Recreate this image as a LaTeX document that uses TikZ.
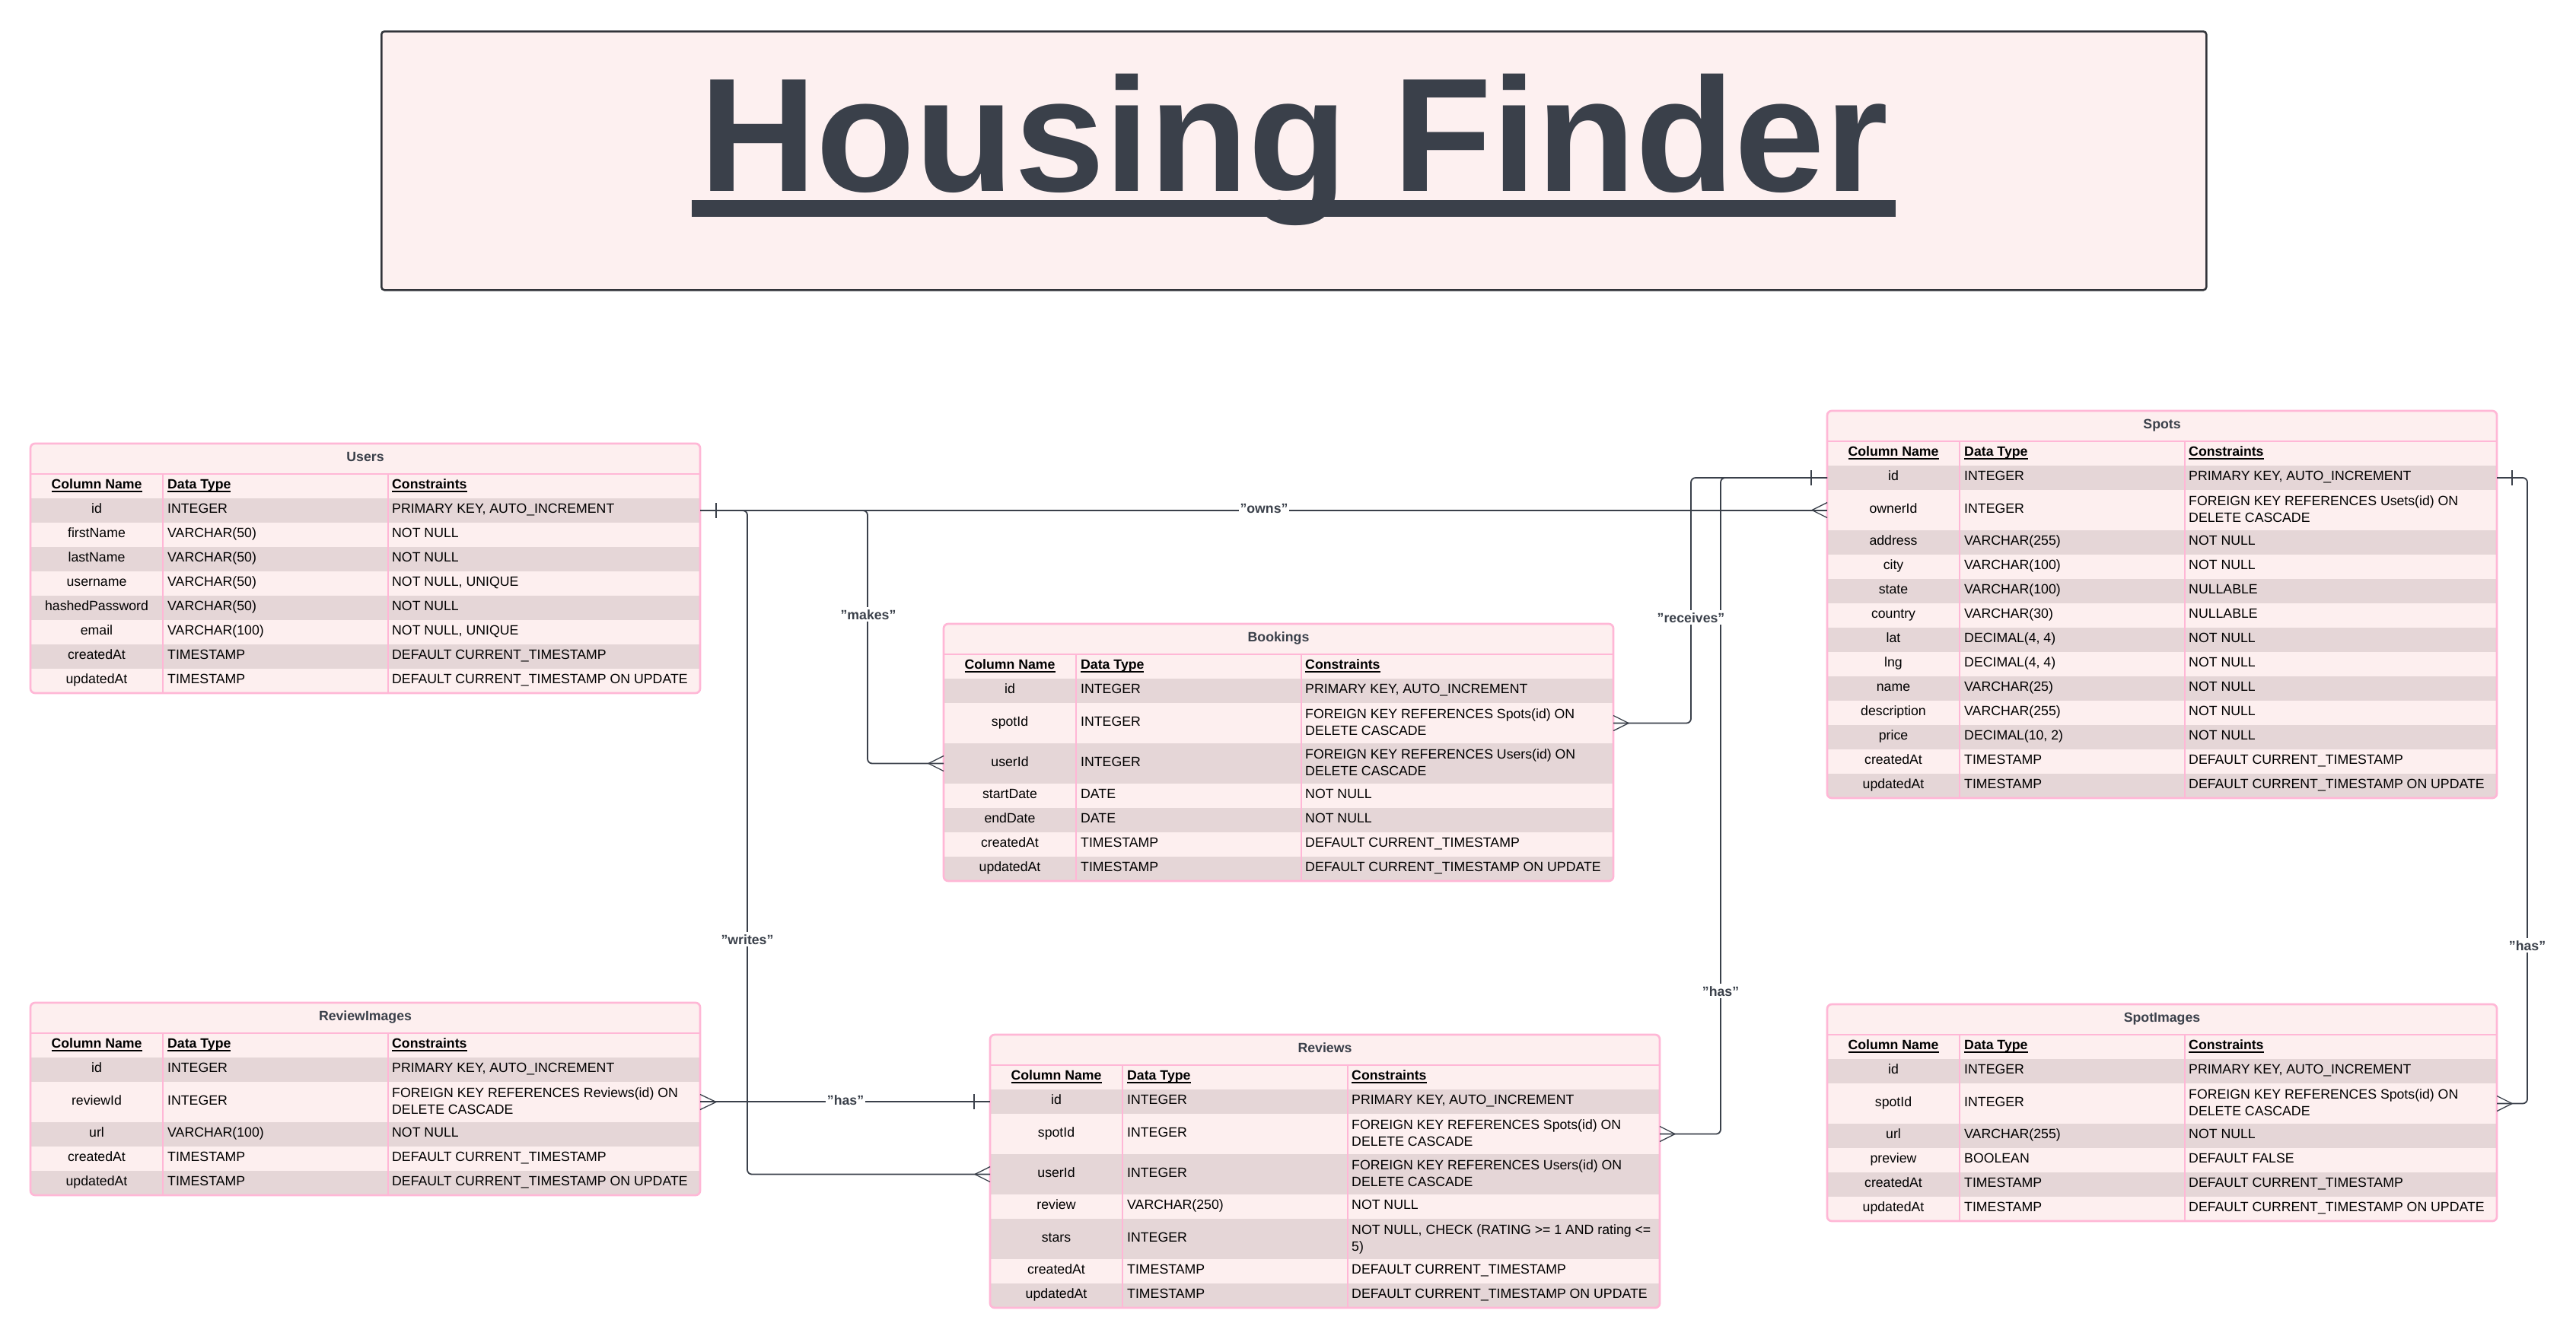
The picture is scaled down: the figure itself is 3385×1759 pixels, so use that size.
\documentclass[tikz,border=0pt]{standalone}
\usepackage{fontspec}
\setmainfont{Liberation Sans}
\usetikzlibrary{calc}
\definecolor{rowl}{RGB}{253,239,239}
\definecolor{rowd}{RGB}{229,214,215}
\definecolor{pinkb}{RGB}{255,183,214}
\definecolor{ink}{RGB}{58,64,74}
\definecolor{titlefill}{RGB}{253,240,240}
\definecolor{titleborder}{RGB}{50,52,58}
\newcommand\fs{\fontsize{17.7}{22}\selectfont}
\newcommand\hul[1]{\setbox0\hbox{#1}\rlap{\rule[-4pt]{\wd0}{1.7pt}}\box0}
\newcommand\TX{40}
\newcommand\ERhead[3]{%
  \node[rowbox,fill=rowl,minimum height=40pt] (#1-title) at (\TX,#2) {};
  \node[tbltitle,anchor=base] (#1-name) at ($(#1-title.center)+(0,3.7)$) {#3};
  \node[rowbox,fill=rowl,minimum height=32pt] (#1-hdr) at (\TX,#2+40) {};
  \node[hdrtext,anchor=base] (#1-h1) at ($(#1-hdr.west)+(87,3.7)$) {\hul{Column Name}};
  \node[hdrtext,anchor=base west] (#1-h2) at ($(#1-hdr.west)+(180,3.7)$) {\hul{Data Type}};
  \node[hdrtext,anchor=base west] (#1-h3) at ($(#1-hdr.west)+(475,3.7)$) {\hul{Constraints}};
}
\newcommand\ERrow[7]{%
  \node[rowbox,fill=#4,minimum height=#3pt] (#1) at (\TX,#2) {};
  \node[celltext,anchor=base] (#1-c1) at ($(#1.west)+(87,3.7)$) {#5};
  \node[celltext,anchor=base west] (#1-c2) at ($(#1.west)+(180,3.7)$) {#6};
  \node[celltext,anchor=base west] (#1-c3) at ($(#1.west)+(475,3.7)$) {#7};
}
\newcommand\ERrowii[8]{%
  \node[rowbox,fill=#4,minimum height=#3pt] (#1) at (\TX,#2) {};
  \node[celltext,anchor=base] (#1-c1) at ($(#1.west)+(87,4.2)$) {#5};
  \node[celltext,anchor=base west] (#1-c2) at ($(#1.west)+(180,4.2)$) {#6};
  \node[celltext,anchor=base west] (#1-c3) at ($(#1.west)+(475,-6)$) {#7};
  \node[celltext,anchor=base west] (#1-c3b) at ($(#1.west)+(475,15.5)$) {#8};
}
\newcommand\ERclose[2]{%
  \draw[divl] (\TX+174,#1+40) -- (\TX+174,#2);
  \draw[divl] (\TX+470,#1+40) -- (\TX+470,#2);
  \draw[sepl] (\TX,#1+40) -- (\TX+880,#1+40);
  \draw[tbord] (\TX,#1) rectangle (\TX+880,#2);
}
\newcommand\onebar[2]{\draw[mkl] ($(#1)+(#2,-10)$) -- ($(#1)+(#2,10)$);}
\newcommand\crowf[2]{\draw[prong] ($(#1)+(0,-10)$) -- ($(#1)+(#2,0)$) -- ($(#1)+(0,10)$);}
\begin{document}
\begin{tikzpicture}[x=1pt,y=-1pt,
  rowbox/.style={anchor=north west,minimum width=880pt,inner sep=0pt,outer sep=0pt,draw=none},
  celltext/.style={font=\fs,inner sep=0pt,text=black},
  hdrtext/.style={font=\fs\bfseries,inner sep=0pt,text=black},
  tbltitle/.style={font=\fs\bfseries,inner sep=0pt,text=ink},
  divl/.style={draw=pinkb,line width=1.4pt},
  sepl/.style={draw=pinkb,line width=2.7pt},
  tbord/.style={draw=pinkb,line width=2.7pt,rounded corners=6pt},
  conn/.style={draw=ink,line width=1.8pt,rounded corners=6pt},
  mkl/.style={draw=ink,line width=1.8pt},
  prong/.style={draw=ink,line width=1.3pt},
  lbl/.style={font=\fs\bfseries,text=ink,fill=white,inner xsep=1.5pt,inner ysep=3pt,anchor=base}]
\useasboundingbox (0,0) rectangle (3385,1759);
\fill[white] (0,0) rectangle (3385,1759);
% title
\node[draw=titleborder,line width=2.5pt,fill=titlefill,rounded corners=4pt,minimum width=2398pt,minimum height=340pt,anchor=north west,inner sep=0pt] (titlebox) at (500,40) {};
\node[anchor=base,inner sep=0pt,text=ink,font=\bfseries\fontsize{213}{240}\selectfont] (title) at (1700,251) {Housing Finder};
\fill[ink] (909,263) rectangle (2491,285);
% Users
\renewcommand\TX{40}
\begin{scope}
\clip[rounded corners=6pt] (\TX,583) rectangle (\TX+880,911);
\ERhead{users}{583}{Users}
\ERrow{users-id}{655}{32}{rowd}{id}{INTEGER}{PRIMARY KEY, AUTO\_INCREMENT}
\ERrow{users-firstName}{687}{32}{rowl}{firstName}{VARCHAR(50)}{NOT NULL}
\ERrow{users-lastName}{719}{32}{rowd}{lastName}{VARCHAR(50)}{NOT NULL}
\ERrow{users-username}{751}{32}{rowl}{username}{VARCHAR(50)}{NOT NULL, UNIQUE}
\ERrow{users-hashedPassword}{783}{32}{rowd}{hashedPassword}{VARCHAR(50)}{NOT NULL}
\ERrow{users-email}{815}{32}{rowl}{email}{VARCHAR(100)}{NOT NULL, UNIQUE}
\ERrow{users-createdAt}{847}{32}{rowd}{createdAt}{TIMESTAMP}{DEFAULT CURRENT\_TIMESTAMP}
\ERrow{users-updatedAt}{879}{32}{rowl}{updatedAt}{TIMESTAMP}{DEFAULT CURRENT\_TIMESTAMP ON UPDATE}
\end{scope}
\ERclose{583}{911}
% Spots
\renewcommand\TX{2401}
\begin{scope}
\clip[rounded corners=6pt] (\TX,540) rectangle (\TX+880,1049);
\ERhead{spots}{540}{Spots}
\ERrow{spots-id}{612}{32}{rowd}{id}{INTEGER}{PRIMARY KEY, AUTO\_INCREMENT}
\ERrowii{spots-ownerId}{644}{53}{rowl}{ownerId}{INTEGER}{FOREIGN KEY REFERENCES Usets(id) ON}{DELETE CASCADE}
\ERrow{spots-address}{697}{32}{rowd}{address}{VARCHAR(255)}{NOT NULL}
\ERrow{spots-city}{729}{32}{rowl}{city}{VARCHAR(100)}{NOT NULL}
\ERrow{spots-state}{761}{32}{rowd}{state}{VARCHAR(100)}{NULLABLE}
\ERrow{spots-country}{793}{32}{rowl}{country}{VARCHAR(30)}{NULLABLE}
\ERrow{spots-lat}{825}{32}{rowd}{lat}{DECIMAL(4, 4)}{NOT NULL}
\ERrow{spots-lng}{857}{32}{rowl}{lng}{DECIMAL(4, 4)}{NOT NULL}
\ERrow{spots-name}{889}{32}{rowd}{name}{VARCHAR(25)}{NOT NULL}
\ERrow{spots-description}{921}{32}{rowl}{description}{VARCHAR(255)}{NOT NULL}
\ERrow{spots-price}{953}{32}{rowd}{price}{DECIMAL(10, 2)}{NOT NULL}
\ERrow{spots-createdAt}{985}{32}{rowl}{createdAt}{TIMESTAMP}{DEFAULT CURRENT\_TIMESTAMP}
\ERrow{spots-updatedAt}{1017}{32}{rowd}{updatedAt}{TIMESTAMP}{DEFAULT CURRENT\_TIMESTAMP ON UPDATE}
\end{scope}
\ERclose{540}{1049}
% Bookings
\renewcommand\TX{1240}
\begin{scope}
\clip[rounded corners=6pt] (\TX,820) rectangle (\TX+880,1158);
\ERhead{bookings}{820}{Bookings}
\ERrow{bookings-id}{892}{32}{rowd}{id}{INTEGER}{PRIMARY KEY, AUTO\_INCREMENT}
\ERrowii{bookings-spotId}{924}{53}{rowl}{spotId}{INTEGER}{FOREIGN KEY REFERENCES Spots(id) ON}{DELETE CASCADE}
\ERrowii{bookings-userId}{977}{53}{rowd}{userId}{INTEGER}{FOREIGN KEY REFERENCES Users(id) ON}{DELETE CASCADE}
\ERrow{bookings-startDate}{1030}{32}{rowl}{startDate}{DATE}{NOT NULL}
\ERrow{bookings-endDate}{1062}{32}{rowd}{endDate}{DATE}{NOT NULL}
\ERrow{bookings-createdAt}{1094}{32}{rowl}{createdAt}{TIMESTAMP}{DEFAULT CURRENT\_TIMESTAMP}
\ERrow{bookings-updatedAt}{1126}{32}{rowd}{updatedAt}{TIMESTAMP}{DEFAULT CURRENT\_TIMESTAMP ON UPDATE}
\end{scope}
\ERclose{820}{1158}
% Reviews
\renewcommand\TX{1301}
\begin{scope}
\clip[rounded corners=6pt] (\TX,1360) rectangle (\TX+880,1719);
\ERhead{reviews}{1360}{Reviews}
\ERrow{reviews-id}{1432}{32}{rowd}{id}{INTEGER}{PRIMARY KEY, AUTO\_INCREMENT}
\ERrowii{reviews-spotId}{1464}{53}{rowl}{spotId}{INTEGER}{FOREIGN KEY REFERENCES Spots(id) ON}{DELETE CASCADE}
\ERrowii{reviews-userId}{1517}{53}{rowd}{userId}{INTEGER}{FOREIGN KEY REFERENCES Users(id) ON}{DELETE CASCADE}
\ERrow{reviews-review}{1570}{32}{rowl}{review}{VARCHAR(250)}{NOT NULL}
\ERrowii{reviews-stars}{1602}{53}{rowd}{stars}{INTEGER}{NOT NULL, CHECK (RATING >= 1 AND rating <=}{5)}
\ERrow{reviews-createdAt}{1655}{32}{rowl}{createdAt}{TIMESTAMP}{DEFAULT CURRENT\_TIMESTAMP}
\ERrow{reviews-updatedAt}{1687}{32}{rowd}{updatedAt}{TIMESTAMP}{DEFAULT CURRENT\_TIMESTAMP ON UPDATE}
\end{scope}
\ERclose{1360}{1719}
% ReviewImages
\renewcommand\TX{40}
\begin{scope}
\clip[rounded corners=6pt] (\TX,1318) rectangle (\TX+880,1571);
\ERhead{reviewimages}{1318}{ReviewImages}
\ERrow{reviewimages-id}{1390}{32}{rowd}{id}{INTEGER}{PRIMARY KEY, AUTO\_INCREMENT}
\ERrowii{reviewimages-reviewId}{1422}{53}{rowl}{reviewId}{INTEGER}{FOREIGN KEY REFERENCES Reviews(id) ON}{DELETE CASCADE}
\ERrow{reviewimages-url}{1475}{32}{rowd}{url}{VARCHAR(100)}{NOT NULL}
\ERrow{reviewimages-createdAt}{1507}{32}{rowl}{createdAt}{TIMESTAMP}{DEFAULT CURRENT\_TIMESTAMP}
\ERrow{reviewimages-updatedAt}{1539}{32}{rowd}{updatedAt}{TIMESTAMP}{DEFAULT CURRENT\_TIMESTAMP ON UPDATE}
\end{scope}
\ERclose{1318}{1571}
% SpotImages
\renewcommand\TX{2401}
\begin{scope}
\clip[rounded corners=6pt] (\TX,1320) rectangle (\TX+880,1605);
\ERhead{spotimages}{1320}{SpotImages}
\ERrow{spotimages-id}{1392}{32}{rowd}{id}{INTEGER}{PRIMARY KEY, AUTO\_INCREMENT}
\ERrowii{spotimages-spotId}{1424}{53}{rowl}{spotId}{INTEGER}{FOREIGN KEY REFERENCES Spots(id) ON}{DELETE CASCADE}
\ERrow{spotimages-url}{1477}{32}{rowd}{url}{VARCHAR(255)}{NOT NULL}
\ERrow{spotimages-preview}{1509}{32}{rowl}{preview}{BOOLEAN}{DEFAULT FALSE}
\ERrow{spotimages-createdAt}{1541}{32}{rowd}{createdAt}{TIMESTAMP}{DEFAULT CURRENT\_TIMESTAMP}
\ERrow{spotimages-updatedAt}{1573}{32}{rowl}{updatedAt}{TIMESTAMP}{DEFAULT CURRENT\_TIMESTAMP ON UPDATE}
\end{scope}
\ERclose{1320}{1605}
% routing columns
\coordinate (mk) at (1140,0);
\coordinate (wr) at (982,0);
\coordinate (rc) at (2222,0);
\coordinate (hs) at (2261,0);
\coordinate (hsi) at (3321,0);
% connectors
\draw[conn] (users-id.east) -- (users-id.east -| spots-ownerId.west);
\draw[conn] (users-id.east) -- (users-id.east -| mk) |- (bookings-userId.west);
\draw[conn] (users-id.east) -- (users-id.east -| wr) |- (reviews-userId.west);
\draw[conn] (spots-id.west) -- (spots-id.west -| rc) |- (bookings-spotId.east);
\draw[conn] (spots-id.west) -- (spots-id.west -| hs) |- (reviews-spotId.east);
\draw[conn] (spots-id.east) -- (spots-id.east -| hsi) |- (spotimages-spotId.east);
\draw[conn] (reviews-id.west) -- (reviews-id.west -| reviewimages-reviewId.east);
% markers
\onebar{users-id.east}{21}
\onebar{spots-id.west}{-21}
\onebar{spots-id.east}{20}
\onebar{reviews-id.west}{-21}
\crowf{spots-ownerId.west}{-20}
\crowf{bookings-userId.west}{-20}
\crowf{bookings-spotId.east}{20}
\crowf{reviews-spotId.east}{20}
\crowf{reviews-userId.west}{-20}
\crowf{spotimages-spotId.east}{20}
\crowf{reviewimages-reviewId.east}{21}
% labels
\node[lbl] (l-owns) at (1661,674.5) {"owns"};
\node[lbl] (l-makes) at (1141,814) {"makes"};
\node[lbl] (l-receives) at (2222,818) {"receives"};
\node[lbl] (l-writes) at (982,1241) {"writes"};
\node[lbl] (l-has1) at (1111,1452) {"has"};
\node[lbl] (l-has2) at (2261,1309) {"has"};
\node[lbl] (l-has3) at (3321,1249) {"has"};
\end{tikzpicture}
\end{document}
